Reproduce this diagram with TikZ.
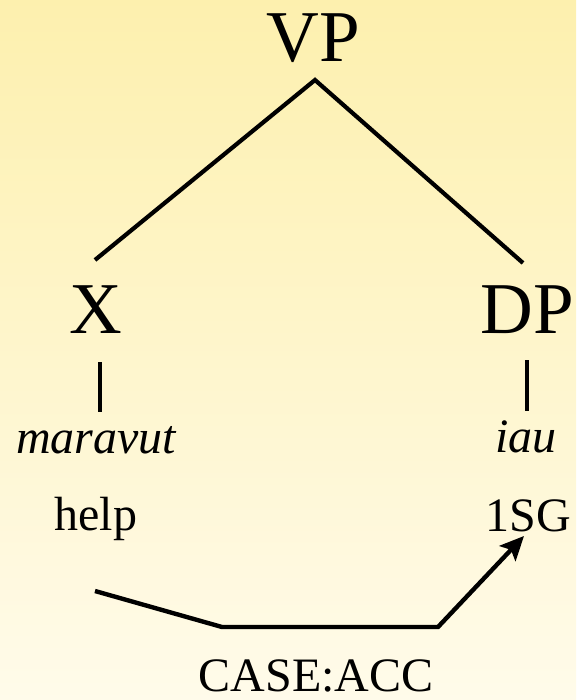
\documentclass[tikz,border=0pt]{standalone}
\usepackage{fontspec}
\setmainfont{Liberation Serif}
\usetikzlibrary{arrows.meta}
\definecolor{bgtop}{HTML}{FDF0AE}
\definecolor{bgbot}{HTML}{FFFBEA}
\tikzset{
  big/.style={anchor=base, inner sep=0pt, font=\fontsize{73}{80}\selectfont},
  small/.style={anchor=base, inner sep=0pt, font=\fontsize{48}{54}\selectfont},
  branch/.style={line width=4.2pt, line cap=butt},
  arrowpath/.style={line width=4.4pt, -{Stealth[length=24pt,width=22pt,inset=5pt]}}
}
\begin{document}
\begin{tikzpicture}[x=1pt,y=-1pt]
  \shade[top color=bgtop, bottom color=bgbot] (0,0) rectangle (576,700);
  \useasboundingbox (0,0) rectangle (576,700);
  % nodes
  \node[big] (vp) at (313,62) {VP};
  \node[big] (x) at (96,333) {X};
  \node[big] (dp) at (527,333) {DP};
  \node[small] (maravut) at (96,453) {\itshape maravut};
  \node[small] (iau) at (526,452) {\itshape iau};
  \node[small] (help) at (96,530) {help};
  \node[small] (sg) at (528,531) {1SG};
  \node[small] (case) at (316,691) {CASE:ACC};
  % connector points
  \coordinate (apex) at (315,80);
  \coordinate (xtop) at (95,260);
  \coordinate (dptop) at (523,263);
  \coordinate (xbart) at (100,362);
  \coordinate (xbarb) at (100,412);
  \coordinate (dpbart) at (527,360);
  \coordinate (dpbarb) at (527,411);
  \coordinate (a0) at (95,591);
  \coordinate (a1) at (222,627);
  \coordinate (a2) at (438,627);
  \coordinate (a3) at (524,536);
  % tree branches
  \draw[branch] (xtop) -- (apex) -- (dptop);
  \draw[branch] (xbart) -- (xbarb);
  \draw[branch] (dpbart) -- (dpbarb);
  % agreement arrow
  \draw[arrowpath] (a0) -- (a1) -- (a2) -- (a3);
\end{tikzpicture}
\end{document}
